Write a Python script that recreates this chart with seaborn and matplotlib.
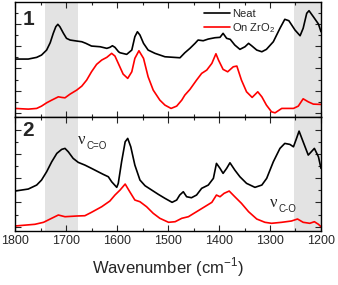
import matplotlib
matplotlib.use("Agg")
import matplotlib.pyplot as plt
import pandas as pd
import seaborn as sns
from matplotlib.ticker import MultipleLocator, FixedLocator

# panel 1 (neat / on ZrO2), intensities in arbitrary units
wn1_neat = [1800, 1774, 1757.5, 1748, 1738, 1731, 1725, 1720, 1716, 1712, 1705, 1699, 1692, 1679,
            1669, 1661, 1650, 1633, 1620, 1614, 1609, 1604, 1597, 1594, 1581, 1571, 1565, 1560,
            1555, 1548, 1539, 1525.5, 1506, 1476.5, 1467, 1457, 1447, 1441, 1431, 1421, 1408,
            1398, 1392, 1385, 1378, 1369, 1359, 1349, 1342, 1336, 1326, 1316, 1307, 1293.5,
            1280.5, 1271, 1263, 1251, 1241, 1235, 1228, 1223.5, 1215, 1205, 1200]
ab1_neat = [58.0, 58.0, 59.7, 62.0, 67.0, 74.3, 83.7, 90.3, 92.7, 90.3, 83.7, 78.7, 77.0, 76.0,
            75.3, 73.7, 71.0, 70.3, 68.7, 69.7, 71.3, 69.7, 65.3, 64.3, 62.7, 67.0, 80.3, 85.3,
            82.0, 73.7, 67.0, 63.7, 60.3, 59.3, 64.3, 68.7, 73.7, 77.0, 76.3, 78.0, 79.3,
            79.7, 83.7, 78.7, 77.7, 72.0, 67.7, 70.3, 73.7, 71.3, 67.0, 65.3, 67.7, 75.3,
            88.7, 97.7, 96.3, 87.0, 81.3, 88.7, 103.7, 106.3, 100.3, 93.0, 85.3]
wn1_zro2 = [1800, 1774, 1757.5, 1748, 1738, 1728, 1715, 1708.5, 1702, 1692, 1679, 1669, 1659.5,
            1650, 1640, 1630, 1620, 1610.5, 1604, 1597.5, 1588, 1579, 1571, 1565, 1557, 1548,
            1539, 1529, 1516, 1506, 1494, 1483, 1473, 1467, 1457, 1444, 1434, 1424, 1414, 1406,
            1401, 1392, 1383, 1372, 1365, 1356, 1346, 1335, 1324, 1316, 1307, 1297, 1290, 1277,
            1254, 1244.5, 1235, 1225, 1215, 1200]
ab1_zro2 = [8.7, 8.0, 8.7, 11.0, 14.3, 17.0, 20.3, 19.7, 19.3, 23.0, 27.0, 31.0, 37.0,
            45.3, 52.7, 57.0, 59.7, 63.7, 61.0, 53.7, 43.0, 38.7, 45.3, 58.7, 66.3, 58.7,
            40.3, 27.0, 17.0, 12.0, 8.7, 11.0, 17.0, 22.0, 27.7, 37.0, 43.7, 47.0, 53.7, 63.3,
            57.0, 47.7, 45.3, 50.3, 51.0, 37.0, 25.3, 19.7, 25.3, 20.3, 12.0, 5.3, 4.3, 8.7,
            8.7, 11.0, 18.3, 15.3, 13.0, 12.7]

# panel 2
wn2_neat = [1800, 1774, 1757.5, 1748, 1738, 1728, 1718, 1708.5, 1702, 1695.5, 1686, 1676, 1663,
            1650, 1637, 1627, 1617, 1610.5, 1600.5, 1597.5, 1591, 1584, 1579, 1573, 1565, 1555,
            1545, 1532, 1519, 1506, 1492, 1483, 1477, 1470, 1463.5, 1454, 1444, 1434, 1421,
            1411, 1405, 1398, 1392, 1385, 1378.5, 1369, 1359, 1346, 1329.5, 1316, 1306.5,
            1293.5, 1280.5, 1271, 1261, 1254, 1248, 1243, 1235, 1225, 1213, 1205, 1200]
ab2_neat = [40.0, 42.0, 46.0, 51.0, 59.3, 69.3, 77.7, 81.7, 82.7, 79.3, 72.7, 68.7, 66.0,
            62.7, 59.3, 56.7, 54.3, 49.3, 43.7, 47.7, 69.3, 89.3, 92.7, 84.3, 66.0, 51.0,
            45.3, 41.0, 36.7, 32.7, 28.7, 31.0, 36.0, 39.3, 34.3, 33.3, 36.0, 42.7, 46.0,
            52.7, 67.7, 62.7, 57.7, 62.7, 68.3, 61.0, 54.3, 47.7, 43.7, 46.0, 52.7,
            69.3, 82.7, 87.7, 86.7, 84.3, 92.7, 100.0, 89.3, 76.0, 82.7, 74.3, 62.7]
wn2_zro2 = [1800, 1761, 1744, 1731, 1715, 1702, 1679, 1663, 1650, 1630, 1614, 1604, 1594, 1584,
            1575, 1565, 1555, 1542, 1529, 1516, 1499, 1486, 1473, 1460, 1444, 1428, 1414, 1405,
            1398, 1390, 1380, 1369, 1356, 1342, 1326, 1310, 1297, 1277, 1258, 1246, 1235, 1222,
            1213, 1205, 1200]
ab2_zro2 = [5.0, 6.7, 8.7, 12.0, 16.0, 14.3, 15.0, 15.3, 18.7, 24.3, 30.0, 36.0, 41.0, 47.0,
            39.3, 31.0, 29.3, 24.3, 17.7, 12.7, 8.7, 9.3, 12.7, 14.3, 19.3, 24.3, 28.7, 36.0,
            34.3, 37.7, 40.0, 34.3, 27.7, 19.3, 12.0, 8.7, 7.7, 8.7, 10.0, 12.0, 8.7, 7.7,
            9.3, 6.7, 4.3]

bands = [(1741, 1677), (1253, 1200)]
series_labels = ["Neat", "On ZrO$_2$"]


def make_frame(wn_a, ab_a, wn_b, ab_b):
    a = pd.DataFrame({"wn": wn_a, "ab": ab_a, "sample": series_labels[0]})
    b = pd.DataFrame({"wn": wn_b, "ab": ab_b, "sample": series_labels[1]})
    return pd.concat([a, b], ignore_index=True)


def style_axis(ax, yticks, ylim):
    ax.set_xlim(1800, 1200)
    ax.set_ylim(*ylim)
    ax.xaxis.set_major_locator(MultipleLocator(100))
    ax.xaxis.set_minor_locator(MultipleLocator(50))
    step = yticks[1] - yticks[0]
    ax.yaxis.set_major_locator(FixedLocator(yticks))
    ax.yaxis.set_minor_locator(FixedLocator([t + step / 2 for t in yticks] + [yticks[0] - step / 2]))
    ax.tick_params(which="both", direction="in", top=True, right=True, labelleft=False)
    ax.tick_params(which="major", length=4, width=0.8)
    ax.tick_params(which="minor", length=2, width=0.8)
    ax.set_xlabel("")
    ax.set_ylabel("")
    for s in ax.spines.values():
        s.set_linewidth(1.0)
        s.set_color("black")
    for lo, hi in bands:
        ax.axvspan(lo, hi, color="#e3e3e3", lw=0, zorder=0)


def nu_label(ax, x, y, sub):
    ax.text(x, y, "ν", fontsize=12, family=["Liberation Serif", "DejaVu Serif"])
    ax.annotate(sub, (x, y), xytext=(6, -3.5), textcoords="offset points", fontsize=7)


sns.set_style("ticks")
plt.rcParams["font.family"] = ["Liberation Sans", "DejaVu Sans"]
plt.rcParams["mathtext.fontset"] = "custom"
plt.rcParams["mathtext.rm"] = "Liberation Sans"

fig = plt.figure(figsize=(3.38, 2.85), dpi=100)
ax1 = fig.add_axes([0.0444, 0.589, 0.9053, 0.404])
ax2 = fig.add_axes([0.0444, 0.1895, 0.9053, 0.3995])
palette = {series_labels[0]: "black", series_labels[1]: "red"}

df1 = make_frame(wn1_neat, ab1_neat, wn1_zro2, ab1_zro2)
sns.lineplot(data=df1, x="wn", y="ab", hue="sample", palette=palette, sort=False,
             linewidth=1.2, ax=ax1)
style_axis(ax1, [4, 26.3, 48.6, 70.9, 93.2], (0, 115))
ax1.tick_params(labelbottom=False)
ax1.legend(loc="upper left", bbox_to_anchor=(0.585, 1.03), frameon=False, fontsize=8,
           handlelength=2.3, handletextpad=0.2, labelspacing=0.2)
ax1.text(0.025, 0.93, "1", transform=ax1.transAxes, fontsize=15, fontweight="bold", va="top")

df2 = make_frame(wn2_neat, ab2_neat, wn2_zro2, ab2_zro2)
sns.lineplot(data=df2, x="wn", y="ab", hue="sample", palette=palette, sort=False,
             linewidth=1.2, ax=ax2, legend=False)
style_axis(ax2, [4.3, 28.6, 52.9, 77.2, 101.5], (0, 114))
ax2.tick_params(labelsize=9, pad=3)
ax2.text(0.025, 0.97, "2", transform=ax2.transAxes, fontsize=15, fontweight="bold", va="top")
nu_label(ax2, 1676, 87, "C=O")
nu_label(ax2, 1300, 24, "C-O")
ax2.set_xlabel("Wavenumber (cm$^{-1}$)", fontsize=12, labelpad=6)

fig.savefig("out.png", dpi=100)
